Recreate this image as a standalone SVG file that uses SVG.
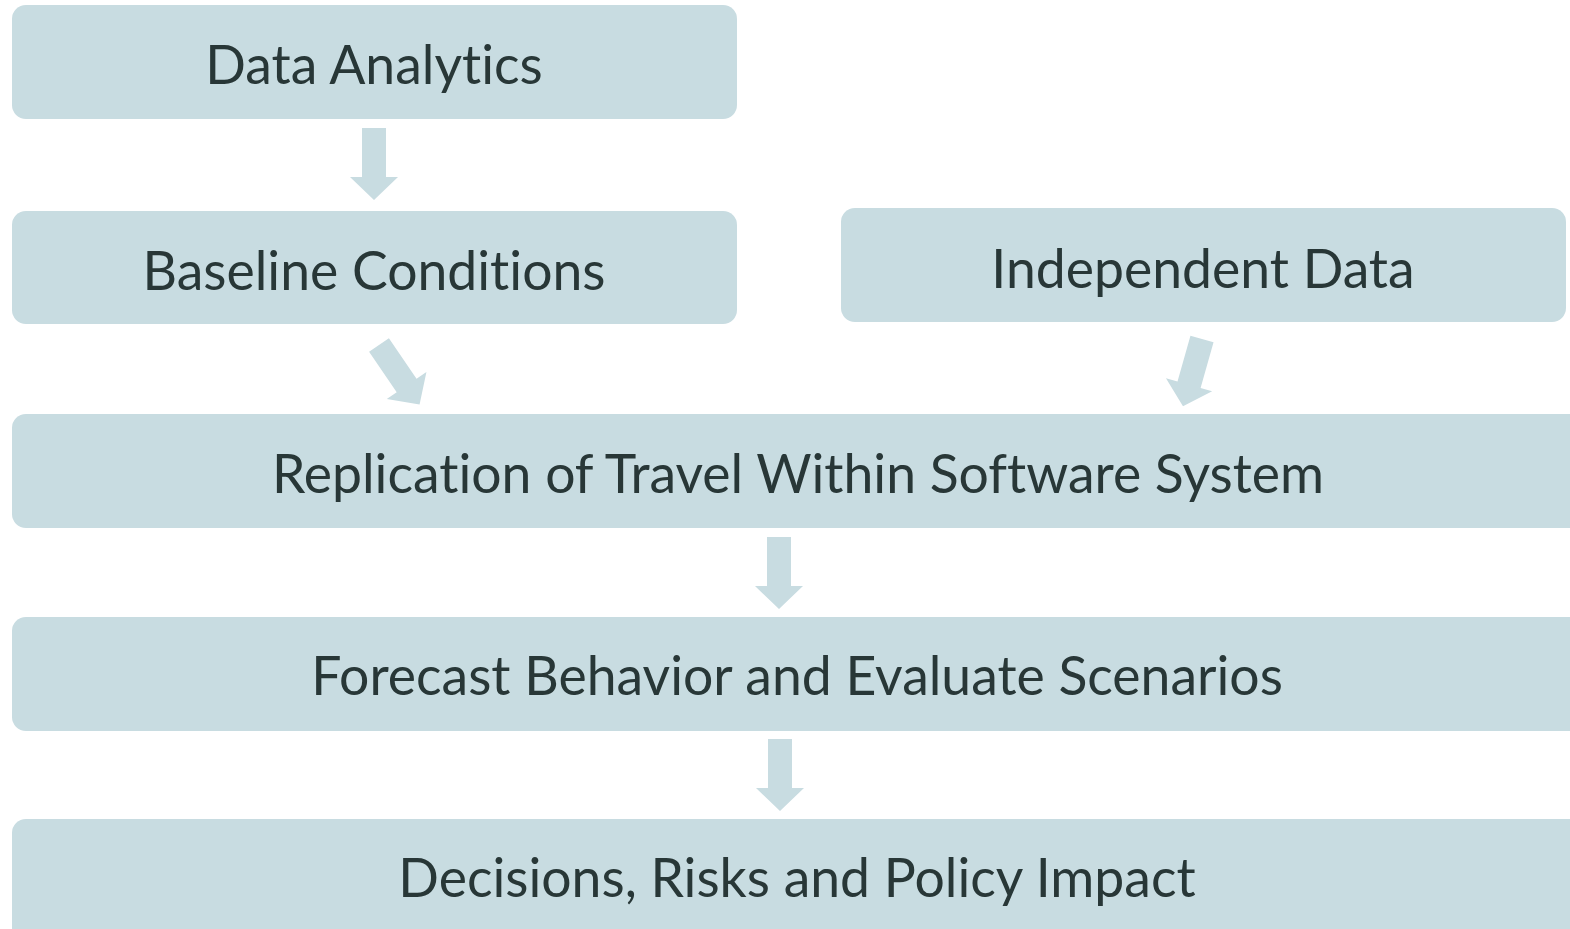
<svg xmlns="http://www.w3.org/2000/svg" width="1570" height="929" viewBox="0 0 1570 929">
<style>
.box{fill:#c8dce1}
.arr{fill:#c8dce1}
.t{font-family:Lato,"Liberation Sans",sans-serif;font-size:53.5px;fill:#283737;text-anchor:middle;font-variant-ligatures:none;font-feature-settings:"liga" 0}
</style>
<defs>
<path id="dn" d="M-12,0 H12 V49 H24 L0,72 L-24,49 H-12 Z"/>
</defs>
<rect width="1570" height="929" fill="#ffffff"/>
<g id="connectors">
<use href="#dn" class="arr" transform="translate(374,128)"/>
<use href="#dn" class="arr" transform="translate(379,345) rotate(-34.3)"/>
<use href="#dn" class="arr" transform="translate(1202,339) rotate(15.8) scale(1,0.97)"/>
<use href="#dn" class="arr" transform="translate(779,537)"/>
<use href="#dn" class="arr" transform="translate(780,739)"/>
</g>
<g id="n1"><rect class="box" x="12" y="5" width="725" height="114" rx="14"/><text class="t" x="374" y="84">Data Analytics</text></g>
<g id="n2"><rect class="box" x="12" y="211" width="725" height="113" rx="14"/><text class="t" x="374" y="290">Baseline Conditions</text></g>
<g id="n3"><rect class="box" x="841" y="208" width="725" height="114" rx="14"/><text class="t" x="1203" y="288">Independent Data</text></g>
<g id="n4"><rect class="box" x="12" y="414" width="1572" height="114" rx="14"/><text class="t" x="798" y="493">Replication of Travel Within Software System</text></g>
<g id="n5"><rect class="box" x="12" y="617" width="1572" height="114" rx="14"/><text class="t" x="797" y="695">Forecast Behavior and Evaluate Scenarios</text></g>
<g id="n6"><rect class="box" x="12" y="819" width="1572" height="130" rx="14"/><text class="t" x="797" y="897">Decisions, Risks and Policy Impact</text></g>
</svg>
